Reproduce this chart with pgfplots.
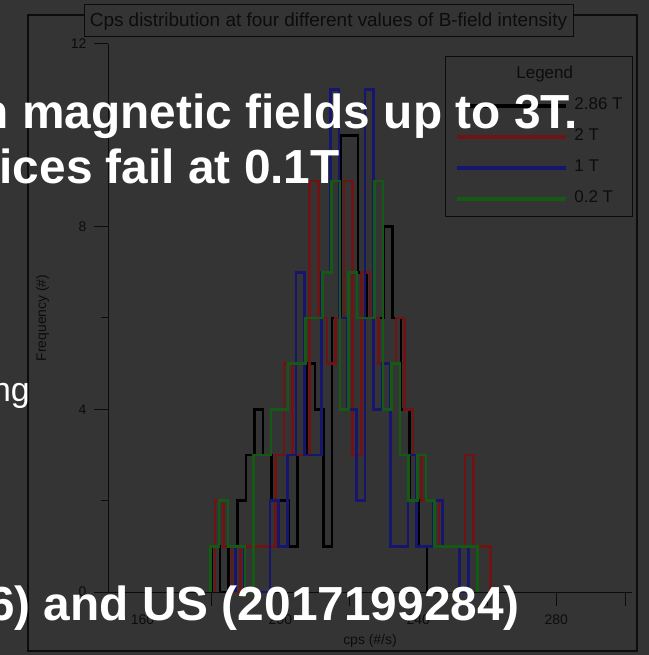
\documentclass[border=0pt]{standalone}
\usepackage{fontspec}
\setmainfont{Liberation Sans}
\usepackage{pgfplots}
\pgfplotsset{compat=1.18}
\definecolor{bg}{HTML}{343434}
\definecolor{ink}{HTML}{0C0C0C}
\definecolor{hred}{HTML}{6E1414}
\definecolor{hblue}{HTML}{16166E}
\definecolor{hgreen}{HTML}{145A14}
\begin{document}
\begin{tikzpicture}[x=1bp,y=1bp]
\fill[bg] (0,0) rectangle (649,655);
\path[use as bounding box] (0,0) rectangle (649,655);
\draw[ink, line width=1.5bp] (28,4) rectangle (637,640);
\begin{axis}[
  at={(108bp,63bp)}, anchor=south west,
  scale only axis, width=524bp, height=548bp,
  xmin=150, xmax=302, ymin=0, ymax=12,
  axis x line*=bottom, axis y line*=left,
  axis line style={ink, line width=1bp, -},
  every tick/.style={ink, line width=1bp},
  tick align=outside,
  major tick length=14bp, minor tick length=7bp,
  ytick={0,4,8,12}, minor ytick={2,6,10},
  xtick={180,220,260,280,300}, xticklabels={},
  extra x ticks={160,200,240,280},
  extra x tick labels={160,200,240,280},
  extra x tick style={major tick length=0pt},
  /pgf/number format/assume math mode=true,
  tick label style={font=\fontsize{14}{14}\selectfont, text=ink},
  xticklabel style={yshift=-19bp},
  yticklabel style={xshift=-4bp},
  xlabel={cps (\#/s)}, ylabel={Frequency (\#)},
  label style={font=\fontsize{14}{14}\selectfont, text=ink},
  xlabel style={at={(rel axis cs:0.5,0)}, anchor=base, yshift=-52bp},
  ylabel style={at={(ticklabel cs:0.5)}, anchor=south, yshift=15bp},
  legend style={at={(1.0019,0.978)}, anchor=north east, draw=ink, fill=bg,
    line width=1bp, font=\fontsize{17}{17}\selectfont, text=ink,
    nodes={inner sep=0pt, text height=12bp, text depth=4bp},
    row sep=15bp, column sep=7bp, inner xsep=10bp, inner ysep=10bp},
  legend cell align=left,
  legend image code/.code={\draw[#1, line width=4bp] (0bp,0bp) -- (108bp,0bp);},
  every axis plot/.append style={line width=2.6bp, const plot},
]
\addlegendimage{empty legend}
\addlegendentry{\makebox[0pt][r]{Legend\hspace{2bp}}}
\addplot[black] coordinates {(180,0)(180,1)(182.5,0)(185,1)(187.5,2)(190,3)(192.5,4)(195,3)(197.5,2)(200,2)(202.5,1)(205,3)(207.5,5)(210,4)(212.5,1)(215,6)(217.5,10)(220,10)(222.5,7)(225,6)(227.5,6)(230,8)(232.5,6)(235,4)(237.5,2)(240,1)(242.5,0)};
\addlegendentry{2.86 T}
\addplot[hred] coordinates {(181,0)(181,2)(183.5,1)(186,0)(188.5,1)(191,1)(193.5,1)(196,1)(198.5,3)(201,5)(203.5,3)(206,3)(208.5,9)(211,6)(213.5,5)(216,6)(218.5,9)(221,3)(223.5,7)(226,6)(228.5,5)(231,5)(233.5,6)(236,4)(238.5,3)(241,2)(243.5,2)(246,1)(248.5,1)(251,1)(253.5,3)(256,1)(258.5,1)(261,0)};
\addlegendentry{2 T}
\addplot[hblue] coordinates {(187,0)(187,1)(189.5,0)(197,2)(199.5,1)(202,3)(204.5,7)(207,3)(209.5,3)(212,7)(214.5,11)(217,6)(219.5,4)(222,2)(224.5,11)(227,4)(229.5,5)(232,1)(234.5,1)(237,3)(239.5,1)(242,1)(244.5,2)(247,1)(249.5,1)(252,0)(254.5,1)(257,0)};
\addlegendentry{1 T}
\addplot[hgreen] coordinates {(179.75,0)(179.75,1)(182.25,2)(184.75,1)(187.25,1)(189.75,0)(192.25,3)(194.75,3)(197.25,4)(199.75,4)(202.25,5)(204.75,5)(207.25,6)(209.75,6)(212.25,7)(214.75,9)(217.25,4)(219.75,7)(222.25,6)(224.75,6)(227.25,9)(229.75,4)(232.25,5)(234.75,3)(237.25,2)(239.75,3)(242.25,2)(244.75,1)(247.25,1)(249.75,1)(252.25,1)(254.75,1)(257.25,0)};
\addlegendentry{0.2 T}
\end{axis}
\draw[ink, fill=bg, line width=1bp] (84,618) rectangle (573,650);
\node[text=ink, font=\fontsize{19}{19}\selectfont] at (328.5,633) {Cps distribution at four different values of B-field intensity};
\begin{scope}[every node/.style={text=white, inner sep=0pt}]
\node[anchor=base east, font=\fontsize{48}{48}\selectfont\bfseries] at (578,526) {n magnetic fields up to 3T.};
\node[anchor=base east, font=\fontsize{48}{48}\selectfont\bfseries] at (340,471) {ices fail at 0.1T};
\node[anchor=base east, font=\fontsize{34}{34}\selectfont] at (30,253) {ng};
\node[anchor=base east, font=\fontsize{48}{48}\selectfont\bfseries] at (520,34) {6) and US (2017199284)};
\end{scope}
\end{tikzpicture}
\end{document}
